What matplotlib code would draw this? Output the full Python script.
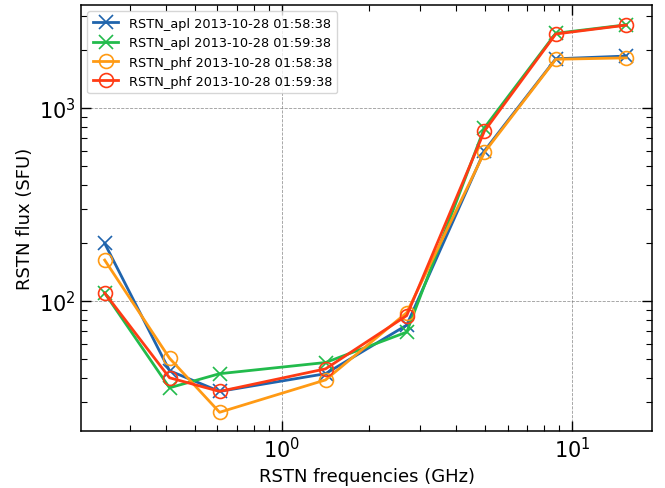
import matplotlib
matplotlib.use("Agg")
import matplotlib.pyplot as plt

freqs = [0.245, 0.41, 0.61, 1.415, 2.695, 4.995, 8.8, 15.4]
apl_0158 = [199, 43.5, 34.0, 42.0, 75.0, 600, 1800, 1860]
apl_0159 = [110, 35.5, 42.0, 48.0, 69.0, 790, 2440, 2700]
phf_0158 = [163, 50.5, 26.5, 39.0, 87.0, 590, 1790, 1820]
phf_0159 = [110, 40.0, 34.0, 44.5, 84.0, 760, 2420, 2690]
labels = ["RSTN_apl 2013-10-28 01:58:38", "RSTN_apl 2013-10-28 01:59:38",
          "RSTN_phf 2013-10-28 01:58:38", "RSTN_phf 2013-10-28 01:59:38"]

fig = plt.figure(figsize=(6.65, 4.89), dpi=100)
ax = fig.add_axes([0.1218, 0.1166, 0.8587, 0.8711])

ax.plot(freqs, apl_0158, color="#1f64ad", marker="x", ms=10, mew=1.2, lw=2, label=labels[0])
ax.plot(freqs, apl_0159, color="#22bb4c", marker="x", ms=10, mew=1.2, lw=2, label=labels[1])
ax.plot(freqs, phf_0158, color="#ff9a14", marker="o", ms=10, mfc="none", mew=1.2, lw=2, label=labels[2])
ax.plot(freqs, phf_0159, color="#ff3b14", marker="o", ms=10, mfc="none", mew=1.2, lw=2, label=labels[3])

ax.set_xscale("log")
ax.set_yscale("log")
ax.set_xlim(0.203, 18.9)
ax.set_ylim(21.2, 3420)
ax.grid(True, which="major", ls="--", color="gray", lw=0.6, alpha=0.8)
ax.tick_params(which="both", direction="in", top=True, right=True)
ax.tick_params(which="major", length=7, width=1, labelsize=15)
ax.tick_params(which="minor", length=4, width=0.8)
for s in ax.spines.values():
    s.set_linewidth(1.1)
ax.set_xlabel("RSTN frequencies (GHz)", fontsize=13)
ax.set_ylabel("RSTN flux (SFU)", fontsize=13)
ax.legend(loc="upper left", fontsize=9.3, handlelength=2.0)

fig.savefig("out.png", dpi=100)
